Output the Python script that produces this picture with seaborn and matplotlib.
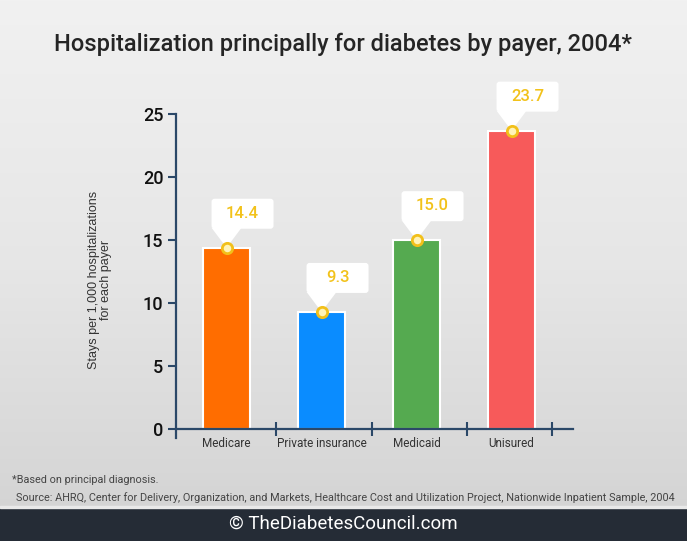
import matplotlib
matplotlib.use("Agg")

import numpy as np
import pandas as pd
import seaborn as sns
import matplotlib.pyplot as plt
from matplotlib.colors import LinearSegmentedColormap
from matplotlib.patches import FancyBboxPatch, Polygon, Rectangle
from matplotlib.transforms import ScaledTranslation

# data
payers = ["Medicare", "Private insurance", "Medicaid", "Unisured"]
stays = [14.4, 9.3, 15.0, 23.7]
value_labels = ["14.4", "9.3", "15.0", "23.7"]
bar_colors = ["#FF6D00", "#0A8CFF", "#55AA50", "#F75A5A"]
y_ticks = [0, 5, 10, 15, 20, 25]

TITLE = "Hospitalization principally for diabetes by payer, 2004*"
Y_LABEL = "Stays per 1,000 hospitalizations\nfor each payer"
FOOTNOTE = "*Based on principal diagnosis."
SOURCE = ("Source: AHRQ, Center for Delivery, Organization, and Markets, Healthcare Cost "
          "and Utilization Project, Nationwide Inpatient Sample, 2004")
BRAND = "\u00a9 TheDiabetesCouncil.com"

W, H = 687, 541
AXIS_COL = "#2B4868"
LABEL_YELLOW = "#F2C21B"


def main() -> int:
    sns.set_style("ticks")
    plt.rcParams["font.family"] = ["Roboto", "DejaVu Sans"]

    fig = plt.figure(figsize=(W / 100, H / 100), dpi=100)

    # soft grey vertical gradient behind everything
    bg = fig.add_axes([0, 0, 1, 1], zorder=-10)
    grad = np.linspace(0, 1, 256)[:, None]
    cmap = LinearSegmentedColormap.from_list("bg", ["#F1F1F1", "#E6E6E6", "#D2D2D2"])
    bg.imshow(grad, aspect="auto", cmap=cmap, extent=[0, 1, 0, 1], origin="upper")
    bg.set_axis_off()

    # dark footer band
    fig.patches.append(Rectangle((0, 0), 1, 33 / H, transform=fig.transFigure,
                                 color="#252C36", zorder=-5))
    fig.patches.append(Rectangle((0, 33 / H), 1, 2 / H, transform=fig.transFigure,
                                 color="#E9E9E9", zorder=-5))

    # plot area: y 0 sits at px 429, y 25 at px 114
    bottom_px, top_px = 437.8, 114.3
    ax = fig.add_axes([176 / W, 1 - bottom_px / H, 397 / W, (bottom_px - top_px) / H])
    ax.patch.set_alpha(0)

    df = pd.DataFrame({"payer": payers, "stays": stays})
    sns.barplot(
        data=df, x="payer", y="stays", hue="payer", order=payers,
        palette=dict(zip(payers, bar_colors)), width=0.5, saturation=1,
        edgecolor="white", linewidth=1.5, legend=False, errorbar=None,
        ax=ax, zorder=2,
    )

    ax.set_xlim(-0.532, 3.647)
    ax.set_ylim(-0.7, 25)
    ax.set_xlabel("")
    ax.set_ylabel("")

    for side in ("top", "right"):
        ax.spines[side].set_visible(False)
    ax.spines["left"].set_color(AXIS_COL)
    ax.spines["left"].set_linewidth(1.6)
    ax.spines["bottom"].set_position(("data", 0))
    ax.spines["bottom"].set_color(AXIS_COL)
    ax.spines["bottom"].set_linewidth(1.6)

    ax.set_yticks(y_ticks)
    ax.tick_params(axis="y", length=6, width=1.5, color=AXIS_COL, pad=3,
                   labelsize=13, labelcolor="#111111")
    for t in ax.get_yticklabels():
        t.set_fontweight("medium")

    ax.set_xticks(range(len(payers)))
    ax.set_xticklabels(payers)
    ax.tick_params(axis="x", which="major", length=0, pad=6, labelsize=8.5,
                   labelcolor="#333333")
    # separator ticks between the categories
    ax.set_xticks([0.52, 1.53, 2.53, 3.43], minor=True)
    ax.tick_params(axis="x", which="minor", direction="inout", length=10,
                   width=1.5, color=AXIS_COL)

    # callouts: white tag with a pointer down to a yellow dot on each bar
    for i, (v, lab) in enumerate(zip(stays, value_labels)):
        tr = fig.dpi_scale_trans + ScaledTranslation(i, v, ax.transData)
        box = FancyBboxPatch((-0.15, 0.19), 0.62, 0.30,
                             boxstyle="round,pad=0,rounding_size=0.03",
                             transform=tr, fc="white", ec="none", zorder=4, clip_on=False)
        ax.add_patch(box)
        tip = Polygon([(-0.15, 0.20), (0.15, 0.20), (0, 0)], closed=True,
                      transform=tr, fc="white", ec="none", zorder=4, clip_on=False)
        ax.add_patch(tip)
        ax.text(0.16, 0.345, lab, transform=tr, ha="center", va="center",
                color=LABEL_YELLOW, fontsize=12, fontweight="medium", zorder=6)

    ax.scatter(range(len(stays)), stays, s=55, facecolor="#FFF3B8",
               edgecolor="#F2C01A", linewidth=2, zorder=5, clip_on=False)

    fig.text(100 / W, 1 - 280 / H, Y_LABEL, rotation=90, ha="center", va="center",
             fontsize=9, color="#333333", family=["Liberation Sans", "DejaVu Sans"],
             linespacing=1.1)

    fig.text(0.5, 1 - 44 / H, TITLE, ha="center", va="center", fontsize=17,
             fontweight="medium", color="#252525")
    fig.text(12 / W, 1 - 480 / H, FOOTNOTE, ha="left", va="center", fontsize=7.8,
             color="#444444")
    fig.text(16 / W, 1 - 498 / H, SOURCE, ha="left", va="center", fontsize=7.8,
             color="#444444")
    fig.text(0.5, 1 - 524 / H, BRAND, ha="center", va="center", fontsize=13.5,
             color="white")

    fig.savefig("out.png", dpi=100)
    return 0


if __name__ == "__main__":
    raise SystemExit(main())
